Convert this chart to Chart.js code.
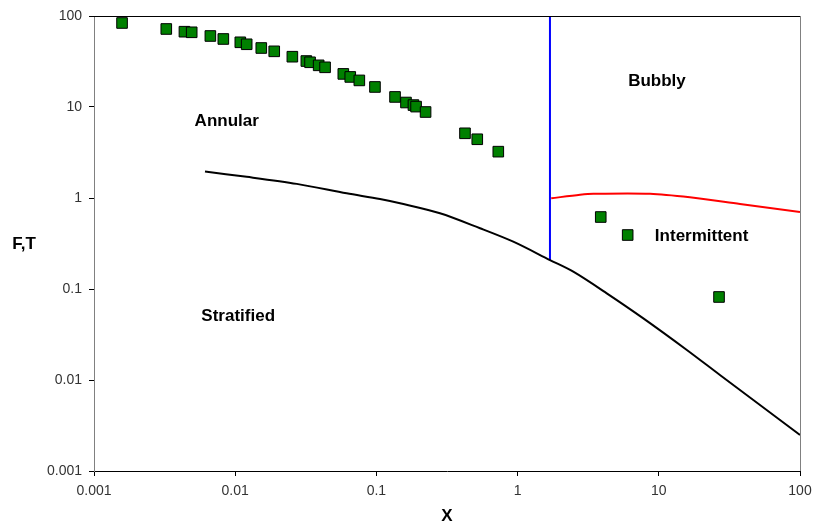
<!DOCTYPE html>
<html>
<head>
<meta charset="utf-8">
<script src="https://cdn.jsdelivr.net/npm/chart.js@4/dist/chart.umd.min.js"></script>
<style>
  html, body { margin: 0; padding: 0; background: #fff; }
  #wrap { width: 814px; height: 527px; }
</style>
</head>
<body>
<div id="wrap"><canvas id="flowMap" width="814" height="527"></canvas></div>
<script>
// measured points (green squares)
const pointX = [0.00158, 0.00325, 0.00437, 0.00492, 0.00667, 0.00824, 0.01087, 0.01206,
  0.0153, 0.0189, 0.0254, 0.0319, 0.0339, 0.039, 0.0433, 0.0583, 0.0653, 0.0757, 0.0977,
  0.1355, 0.162, 0.183, 0.191, 0.223, 0.424, 0.518, 0.73, 3.88, 6.02, 26.7];
const pointY = [83.8, 72, 67.2, 66.2, 60.3, 55.9, 51.4, 48.9,
  44.5, 40.9, 35.7, 32.0, 31.0, 28.7, 27.3, 23.1, 21.4, 19.6, 16.6,
  12.9, 11.2, 10.5, 10.1, 8.81, 5.14, 4.42, 3.23, 0.618, 0.392, 0.0817];

// stratified boundary (black)
const stratX = [0.00611, 0.01206, 0.0273, 0.0616, 0.106, 0.147, 0.282, 0.542, 0.932,
  1.695, 2.48, 4.28, 7.77, 15.8, 27.1, 46.7, 100];
const stratY = [1.95, 1.71, 1.43, 1.127, 0.975, 0.875, 0.679, 0.465, 0.331,
  0.208, 0.155, 0.0897, 0.0476, 0.0214, 0.01135, 0.00603, 0.00249];

// annular / intermittent boundary (blue)
const blueX = [1.695, 1.695];
const blueY = [0.208, 100];

// bubbly / intermittent boundary (red)
const redX = [1.73, 2.77, 3.44, 8.67, 16.6, 37.6, 100];
const redY = [0.993, 1.087, 1.115, 1.115, 1.018, 0.859, 0.702];

const decadeTicks = [0.001, 0.01, 0.1, 1, 10, 100];

const regionNames = ["Annular", "Bubbly", "Intermittent", "Stratified"];
const regionX = [0.00871, 9.71, 20.1, 0.0105];
const regionY = [6.89, 19.3, 0.382, 0.0505];

const toXY = (xs, ys) => xs.map((x, i) => ({ x, y: ys[i] }));

const labelFont = "bold 17px 'Liberation Sans', Arial, sans-serif";

const overlay = {
  id: "overlay",
  afterDraw(chart) {
    const { ctx, chartArea: a, scales } = chart;
    ctx.save();
    // top and right frame
    ctx.lineWidth = 1;
    ctx.strokeStyle = "#000";
    ctx.beginPath();
    ctx.moveTo(a.left, a.top + 0.5);
    ctx.lineTo(a.right, a.top + 0.5);
    ctx.stroke();
    ctx.strokeStyle = "#808080";
    ctx.beginPath();
    ctx.moveTo(a.right + 0.5, a.top);
    ctx.lineTo(a.right + 0.5, a.bottom);
    ctx.stroke();

    ctx.fillStyle = "#000";
    ctx.font = labelFont;
    ctx.textAlign = "center";
    ctx.textBaseline = "middle";
    regionNames.forEach((name, i) => {
      ctx.fillText(name, scales.x.getPixelForValue(regionX[i]), scales.y.getPixelForValue(regionY[i]));
    });
    // y axis title, horizontal like the original
    ctx.fillText("F,T", 24, (a.top + a.bottom) / 2 + 1);
    ctx.restore();
  }
};

const tickFont = { family: "'Liberation Sans', Arial, sans-serif", size: 14 };

new Chart(document.getElementById("flowMap"), {
  type: "scatter",
  data: {
    datasets: [
      {
        label: "boundary",
        data: toXY(stratX, stratY),
        showLine: true,
        borderColor: "#000",
        borderWidth: 2,
        pointRadius: 0,
        tension: 0.3
      },
      {
        label: "blue",
        data: toXY(blueX, blueY),
        showLine: true,
        borderColor: "#0000ff",
        borderWidth: 2,
        pointRadius: 0
      },
      {
        label: "red",
        data: toXY(redX, redY),
        showLine: true,
        borderColor: "#ff0000",
        borderWidth: 2,
        pointRadius: 0,
        tension: 0.3
      },
      {
        label: "data",
        data: toXY(pointX, pointY),
        pointStyle: "rect",
        pointRadius: 7.5,
        pointBackgroundColor: "#008000",
        pointBorderColor: "#000",
        pointBorderWidth: 1
      }
    ]
  },
  options: {
    responsive: false,
    animation: false,
    layout: { padding: { top: 16, right: 14, left: 0, bottom: 0 } },
    plugins: {
      legend: { display: false },
      tooltip: { enabled: false }
    },
    scales: {
      x: {
        type: "logarithmic",
        min: 0.001,
        max: 100,
        afterBuildTicks: s => { s.ticks = decadeTicks.map(v => ({ value: v })); },
        afterFit: s => { s.height = 56; s.paddingLeft = 0; s.paddingRight = 0; },
        ticks: {
          color: "#333",
          font: tickFont,
          padding: 7,
          maxRotation: 0,
          callback: v => String(v)
        },
        grid: { drawOnChartArea: false, color: "#000", tickLength: 5 },
        border: { color: "#000" },
        title: {
          display: true,
          text: "X",
          color: "#000",
          font: { family: "'Liberation Sans', Arial, sans-serif", size: 17, weight: "bold" },
          padding: { top: 0, bottom: 0 }
        }
      },
      y: {
        type: "logarithmic",
        min: 0.001,
        max: 100,
        afterBuildTicks: s => { s.ticks = decadeTicks.map(v => ({ value: v })); },
        afterFit: s => { s.width = 94; s.paddingTop = 0; s.paddingBottom = 0; },
        ticks: {
          color: "#333",
          font: tickFont,
          padding: 7,
          callback: v => String(v)
        },
        grid: { drawOnChartArea: false, color: "#000", tickLength: 5 },
        border: { color: "#808080" }
      }
    }
  },
  plugins: [overlay]
});
</script>
</body>
</html>
